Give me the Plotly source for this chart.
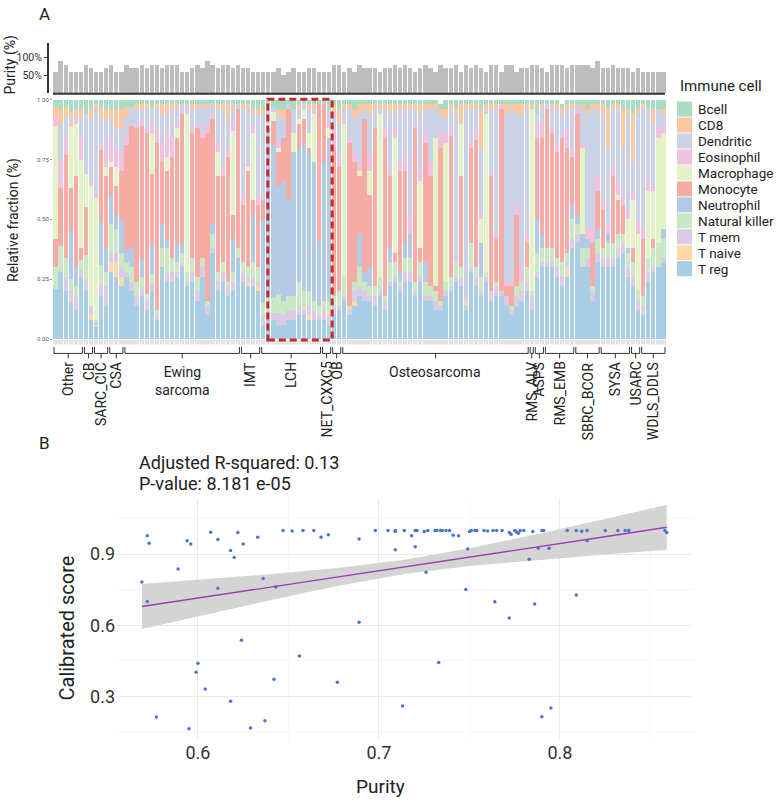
import plotly.graph_objects as go

W, H = 777, 804
def fx(p): return p / W
def fy(p): return 1 - p / H

FONT = "Roboto, Arial, sans-serif"

# ---------------- data: panel A ----------------
groups = ["Other", "CB", "SARC_CIC", "CSA", "Ewing sarcoma", "IMT", "LCH", "NET_CXXC5", "OB",
          "Osteosarcoma", "RMS_ALV", "ASPS", "RMS_EMB", "SBRC_BCOR", "SYSA", "USARC", "WDLS_DDLS"]
group_sizes = [6, 2, 3, 3, 23, 4, 12, 2, 2, 37, 1, 2, 6, 5, 6, 2, 5]

purity = [0.6,0.9,0.8,0.6,0.6,0.6,0.8,0.7,0.6,0.6, 0.7,0.8,0.6,0.6,0.8,0.7,0.7,0.8,0.7,0.8,
          0.8,0.7,0.8,0.8,0.8,0.6,0.6,0.7,0.8,0.7, 0.9,0.8,0.7,0.8,0.8,0.7,0.8,0.7,0.7,0.6,
          0.6,0.6,0.6,0.6,0.7,0.5,0.6,0.7,0.6,0.6, 0.7,0.7,0.6,0.6,0.6,0.8,0.8,0.6,0.7,0.6,
          0.8,0.7,0.7,0.7,0.6,0.7,0.7,0.8,0.7,
          0.8,0.7,0.6,0.7,0.8,0.7,0.6,0.8,0.7,0.7, 0.8,0.6,0.8,0.7,0.8,0.7,0.6,0.8,0.8,0.6,
          0.8,0.8,0.6,0.7,0.7,0.8,0.8,0.7,0.6,0.8, 0.8,0.8,0.7,0.8,0.8,0.8,0.8,0.7,0.9,0.7,
          0.7,0.8,0.7,0.7,0.7,0.6,0.7,0.6,0.6,0.6, 0.6,0.6]

# relative fractions (%) per immune cell type, one value per sample
t_reg = [21,28,20,15,12,26,20,8,5,18, 14,28,26,22,26,20,14,18,12,20, 8,30,24,24,26,30,22,24,16,26,
         10,36,20,24,18,20,34,24,22,22, 20,6,8,8,6,6,8,8,10,10, 8,8,8,8,6,10,12,16,10,14,
         18,16,16,14,18,12,22,24,20,24, 24,18,24,16,16,12,12,18,20,24, 22,12,28,22,18,24,16,18,18,14,
         10,14,16,20,12,26,30,30,30,26, 22,26,38,40,30,30,16,32,30,30, 30,34,36,26,22,12,10,24,28,30, 32]
t_naive = [0,0,0,0,0,0,0,2,1,0, 0,4,6,4,0,0,0,0,0,0, 0,0,0,0,0,0,0,0,0,0,
           0,0,0,0,0,0,0,0,2,0, 2,0,0,0,0,0,0,0,0,0, 2,0,0,0,0,0,0,0,0,2,
           0,0,0,0,0,0,0,0,0,0, 0,0,0,0,0,0,0,0,0,0, 0,0,0,0,0,0,0,0,0,0,
           0,0,0,0,0,0,0,0,0,0, 0,4,0,0,0,0,0,0,0,0, 0,0,0,0,0,0,0,0,0,0, 0]
t_mem = [0,0,6,5,6,3,5,4,1,5, 8,4,4,4,2,4,4,3,4,3, 2,0,4,4,2,2,2,4,4,4,
         4,2,4,4,4,4,0,4,2,4, 2,4,4,3,5,4,4,4,4,2, 4,4,2,4,4,4,2,2,2,4,
         4,4,2,4,2,4,2,2,2,4, 4,2,2,2,2,4,2,2,2,2, 4,2,2,4,2,2,4,4,2,4,
         2,4,4,4,6,2,2,2,2,4, 4,2,4,4,0,4,4,4,4,4, 4,4,4,4,4,4,4,4,2,0, 2]
natural_killer = [9,11,8,5,4,4,10,0,1,8, 6,12,10,6,4,6,6,5,3,4, 2,8,10,6,4,4,4,6,6,4,
                  2,6,4,4,2,4,4,4,4,6, 6,5,6,6,8,6,6,6,10,8, 6,4,4,4,6,4,6,8,2,4,
                  8,4,4,4,6,2,8,6,2,6, 6,4,6,6,4,4,2,4,4,6, 4,2,10,4,6,2,0,2,0,0,
                  2,4,4,6,2,8,6,6,6,4, 6,4,8,4,8,4,2,6,4,6, 6,6,4,6,6,4,4,6,8,10, 8]
neutrophil = [0,0,0,20,8,0,0,0,0,18, 10,12,6,14,5,8,0,8,0,12, 0,10,4,0,8,4,0,0,0,0,
              0,4,0,0,0,14,0,0,0,20, 0,35,70,64,45,50,40,60,56,62, 58,58,27,58,68,0,0,0,0,0,
              14,4,8,0,0,0,6,0,4,6, 10,0,0,8,0,0,0,0,0,0, 0,0,0,0,14,0,0,0,0,0,
              0,0,0,0,0,14,6,0,0,0, 0,0,6,4,6,4,0,4,0,4, 0,0,0,2,0,0,0,0,0,0, 4]
monocyte = [12,24,43,18,38,5,20,0,0,30, 30,12,12,20,44,51,64,55,67,30, 70,26,28,42,44,54,0,52,62,50,
            70,44,40,36,52,10,58,24,40,6, 26,8,0,10,14,18,38,0,10,10, 2,0,57,24,0,62,52,0,68,50,
            24,64,30,66,0,66,30,4,42,30, 0,64,6,50,46,2,64,0,59,0, 38,0,40,53,0,0,48,18,76,4,
            8,30,0,10,0,34,40,58,48,44, 52,44,20,42,0,0,18,16,16,0, 28,14,12,0,6,0,24,0,4,0, 0]
macrophage = [47,0,0,26,22,37,14,50,51,0, 4,2,8,0,0,0,0,0,0,17, 0,0,6,0,4,0,66,0,0,0,
              0,0,10,0,0,35,0,0,2,28, 0,0,2,4,2,0,0,8,2,4, 6,20,0,0,4,0,0,64,0,0,
              2,0,10,0,68,0,0,48,0,0, 0,0,28,0,0,62,0,58,0,0, 22,0,0,0,10,66,0,0,0,0,
              0,0,0,0,76,0,0,0,0,0, 0,0,0,0,36,0,0,0,0,0, 0,2,0,12,20,24,0,28,20,44, 40]
eosinophil = [4,12,8,2,2,10,0,2,2,3, 8,10,8,8,4,0,2,3,2,4, 6,8,10,8,2,0,2,2,2,2,
              4,2,4,4,4,4,0,4,2,4, 4,2,0,0,2,0,0,0,0,0, 0,0,0,0,2,8,4,2,2,4,
              4,0,6,0,0,4,4,4,4,6, 6,2,4,4,6,0,6,4,3,2, 0,2,2,4,2,0,2,2,2,2,
              2,4,6,4,0,6,6,0,2,4, 2,8,2,2,2,4,6,6,4,4, 4,6,4,4,4,6,4,4,2,4, 4]
dendritic = [0,15,8,2,0,8,25,26,35,10, 12,8,8,10,8,8,6,4,8,6, 8,12,8,12,6,4,2,8,6,12,
             6,4,14,24,12,5,2,36,22,4, 34,34,6,2,12,8,2,10,4,2, 10,2,0,0,6,6,14,4,12,14,
             20,4,18,8,2,8,22,8,22,20, 46,6,24,10,22,12,8,6,8,60, 0,78,14,9,28,2,26,52,0,70,
             72,38,64,52,0,4,6,2,8,14, 8,8,18,2,14,48,50,28,36,32, 24,30,20,40,12,44,50,30,26,8, 4]
cd8 = [4,6,4,2,4,3,0,4,2,5, 4,4,8,8,4,0,2,2,2,0, 2,4,4,2,2,0,0,2,2,0,
       2,0,2,2,6,2,0,2,2,2, 2,2,0,0,2,4,0,0,2,0, 2,2,0,0,0,4,6,2,2,4,
       4,2,4,2,2,2,4,2,2,2, 2,2,4,2,2,2,2,4,2,2, 8,2,2,2,16,2,2,2,0,4,
       2,4,4,2,2,0,2,0,2,2, 2,2,2,0,2,2,2,2,4,16, 2,2,16,2,20,2,2,0,6,0, 2]
bcell = [3,4,3,5,4,4,6,4,2,3, 4,4,4,4,3,3,2,2,2,4, 2,2,2,2,2,2,2,2,2,2,
         2,2,2,2,2,2,2,2,2,4, 4,4,4,3,4,4,2,4,2,2, 2,2,2,2,4,2,4,2,2,4,
         2,2,2,2,2,2,2,2,2,2, 2,2,2,2,2,2,2,4,2,4, 2,2,2,2,4,2,2,2,2,2,
         2,2,2,2,2,6,2,2,2,2, 2,2,2,2,2,4,2,2,2,4, 2,2,4,4,6,4,2,4,4,4, 4]

# stacking order bottom -> top, with legend names and colours
stack_names = ["T reg", "T naive", "T mem", "Natural killer", "Neutrophil", "Monocyte",
               "Macrophage", "Eosinophil", "Dendritic", "CD8", "Bcell"]
stack_values = [t_reg, t_naive, t_mem, natural_killer, neutrophil, monocyte,
                macrophage, eosinophil, dendritic, cd8, bcell]
cell_colors = {"Bcell": "#a9dcc5", "CD8": "#fbc8a2", "Dendritic": "#cbd2e8", "Eosinophil": "#f0c2e0",
               "Macrophage": "#e4f3c6", "Monocyte": "#f6aca5", "Neutrophil": "#b3cae4",
               "Natural killer": "#cbe8c4", "T mem": "#dccbe6", "T naive": "#fdd8a8", "T reg": "#a8cee5"}
legend_order = ["Bcell", "CD8", "Dendritic", "Eosinophil", "Macrophage", "Monocyte",
                "Neutrophil", "Natural killer", "T mem", "T naive", "T reg"]

# ---------------- data: panel B ----------------
purity_x = [0.569,0.572,0.573,0.572,0.589,0.594,0.596,0.600,0.607,0.611,
            0.611,0.618,0.620,0.622,0.625,0.624,0.633,0.636,0.643,0.647,
            0.652,0.656,0.658,0.664,0.668,0.672,0.689,0.689,0.698,0.705,
            0.709,0.709,0.709,0.714,0.718,0.720,0.721,0.720,0.725,0.727,
            0.726,0.731,0.732,0.733,0.734,0.735,0.737,0.739,0.741,0.744,
            0.749,0.748,0.750,0.751,0.753,0.754,0.758,0.760,0.763,0.765,
            0.768,0.772,0.773,0.775,0.776,0.777,0.778,0.780,0.783,0.785,
            0.788,0.790,0.791,0.794,0.764,0.772,0.786,0.804,0.809,0.809,
            0.812,0.815,0.815,0.825,0.832,0.836,0.838,0.858,0.859,0.577,
            0.595,0.599,0.604,0.618,0.629,0.637,0.642,0.677,0.713,0.795,0.790]
score_y = [0.782,0.977,0.946,0.700,0.837,0.956,0.943,0.440,0.992,0.962,
           0.756,0.915,0.886,0.991,0.943,0.537,0.971,0.797,0.761,0.999,
           0.997,0.470,0.999,0.999,0.971,0.982,0.964,0.613,0.999,0.999,
           0.995,1.000,0.918,0.999,0.977,0.999,0.999,0.931,0.995,0.999,
           0.823,0.999,0.999,0.443,0.999,0.999,0.999,0.999,0.979,0.977,
           0.922,0.751,0.995,0.999,1.000,0.999,0.999,0.997,0.999,0.999,
           0.999,0.991,0.984,0.999,0.993,0.988,0.999,0.999,0.878,0.995,
           0.925,0.999,0.999,0.925,0.699,0.631,0.690,0.999,0.999,0.727,
           0.996,0.999,0.956,0.999,0.999,0.999,0.999,0.999,0.991,0.213,
           0.164,0.402,0.331,0.279,0.167,0.197,0.372,0.360,0.259,0.251,0.214]
fit_x = [0.569, 0.605, 0.641, 0.677, 0.714, 0.750, 0.787, 0.823, 0.859]
fit_y = [0.679, 0.720, 0.762, 0.803, 0.846, 0.887, 0.930, 0.971, 1.013]
fit_lo = [0.584, 0.646, 0.707, 0.765, 0.816, 0.850, 0.875, 0.897, 0.918]
fit_hi = [0.774, 0.795, 0.816, 0.841, 0.876, 0.925, 0.984, 1.045, 1.108]

# ---------------- figure ----------------
n = len(purity)
samples = list(range(n))
fig = go.Figure()

for name, vals in zip(stack_names, stack_values):
    fig.add_trace(go.Bar(x=samples, y=vals, name=name, marker_color=cell_colors[name],
                         marker_line_width=0, xaxis="x", yaxis="y", showlegend=False))

fig.add_trace(go.Bar(x=samples, y=purity, marker_color="#bdbdbd", marker_line_width=0,
                     xaxis="x", yaxis="y2", showlegend=False))
fig.add_trace(go.Bar(x=samples, y=[1] * n, marker_color="#e3e3e3", marker_line_width=0,
                     xaxis="x", yaxis="y3", showlegend=False))

fig.add_trace(go.Scatter(x=fit_x, y=fit_lo, mode="lines", line=dict(width=0),
                         xaxis="x2", yaxis="y4", showlegend=False, hoverinfo="skip"))
fig.add_trace(go.Scatter(x=fit_x, y=fit_hi, mode="lines", line=dict(width=0), fill="tonexty",
                         fillcolor="#d4d4d4", xaxis="x2", yaxis="y4", showlegend=False, hoverinfo="skip"))
fig.add_trace(go.Scatter(x=purity_x, y=score_y, mode="markers",
                         marker=dict(size=3.5, color="#4a77c9"), xaxis="x2", yaxis="y4", showlegend=False))
fig.add_trace(go.Scatter(x=fit_x, y=fit_y, mode="lines", line=dict(color="#9d3db3", width=1.4),
                         xaxis="x2", yaxis="y4", showlegend=False))

shapes = []
annotations = []

# baseline of purity bars
shapes.append(dict(type="line", xref="paper", yref="paper", x0=fx(53), x1=fx(665), y0=fy(90.5), y1=fy(90.5),
                   line=dict(color="#333333", width=2)))

# group brackets and labels
start = 0
starts = []
for g, size in zip(groups, group_sizes):
    starts.append(start)
    a = start - 0.5 + 0.2
    b = start + size - 0.5 - 0.2
    c = start + size / 2 - 0.5
    lc = dict(color="#333333", width=1)
    shapes.append(dict(type="line", xref="x", yref="paper", x0=a, x1=b, y0=fy(352.5), y1=fy(352.5), line=lc))
    shapes.append(dict(type="line", xref="x", yref="paper", x0=a, x1=a, y0=fy(352.5), y1=fy(346), line=lc))
    shapes.append(dict(type="line", xref="x", yref="paper", x0=b, x1=b, y0=fy(352.5), y1=fy(346), line=lc))
    shapes.append(dict(type="line", xref="x", yref="paper", x0=c, x1=c, y0=fy(352.5), y1=fy(357.5), line=lc))
    if g == "Ewing sarcoma":
        annotations.append(dict(x=c, y=fy(361), xref="x", yref="paper", text="Ewing<br>sarcoma",
                                showarrow=False, xanchor="center", yanchor="top",
                                font=dict(size=14, color="#222")))
    elif g == "Osteosarcoma":
        annotations.append(dict(x=c, y=fy(361), xref="x", yref="paper", text=g,
                                showarrow=False, xanchor="center", yanchor="top",
                                font=dict(size=14, color="#222")))
    else:
        annotations.append(dict(x=c, y=fy(359), xref="x", yref="paper", text=g, textangle=-90,
                                showarrow=False, xanchor="center", yanchor="top",
                                font=dict(size=14, color="#222")))
    start += size

# highlight box around LCH / NET_CXXC5
i_lch = groups.index("LCH")
i_net = groups.index("NET_CXXC5")
shapes.append(dict(type="rect", xref="x", yref="paper",
                   x0=starts[i_lch] + 0.9, x1=starts[i_net] + group_sizes[i_net] - 0.4,
                   y0=fy(339), y1=fy(96), line=dict(color="#c9282d", width=3, dash="7px,4px")))

# manual legend
annotations.append(dict(x=fx(678), y=fy(83), xref="paper", yref="paper", text="Immune cell",
                        showarrow=False, xanchor="left", yanchor="middle", font=dict(size=15, color="#222")))
for k, name in enumerate(legend_order):
    yc = 106 + 16.1 * k
    shapes.append(dict(type="rect", xref="paper", yref="paper", x0=fx(677), x1=fx(692),
                       y0=fy(yc + 7.6), y1=fy(yc - 7.6), fillcolor=cell_colors[name], line=dict(width=0)))
    annotations.append(dict(x=fx(696), y=fy(yc), xref="paper", yref="paper", text=name, showarrow=False,
                            xanchor="left", yanchor="middle", font=dict(size=13.5, color="#222")))

# texts
def txt(x, y, t, size, angle=0, xa="center", ya="middle"):
    annotations.append(dict(x=fx(x), y=fy(y), xref="paper", yref="paper", text=t, showarrow=False,
                            textangle=angle, xanchor=xa, yanchor=ya, font=dict(size=size, color="#222")))

txt(37, 10, "A", 17, xa="left")
txt(10, 62, "Purity (%)", 14, angle=-90)
txt(13, 218, "Relative fraction (%)", 14, angle=-90)
txt(37, 443, "B", 17, xa="left")
txt(137, 463, "Adjusted R-squared: 0.13", 18, xa="left")
txt(137, 484, "P-value: 8.181 e-05", 18, xa="left")
txt(67, 630, "Calibrated score", 20, angle=-90)
txt(380, 789, "Purity", 19)

fig.update_layout(
    width=W, height=H, margin=dict(l=0, r=0, t=0, b=0),
    paper_bgcolor="white", plot_bgcolor="white",
    barmode="stack", bargap=0.15, showlegend=False,
    font=dict(family=FONT, color="#222"),
    xaxis=dict(domain=[fx(53), fx(666)], range=[-0.5, n - 0.5], visible=False, anchor="y"),
    yaxis=dict(domain=[fy(338), fy(96.5)], range=[0, 100], anchor="x",
               tickvals=[0, 25, 50, 75, 100], ticktext=["0.00", "0.25", "0.50", "0.75", "1.00"],
               tickfont=dict(size=6, color="#555"), ticks="outside", ticklen=2, tickcolor="#999",
               showgrid=False, zeroline=False, showline=False),
    yaxis2=dict(domain=[fy(90), fy(39)], range=[0, 1.42], anchor="free", position=fx(47),
                tickvals=[0.5, 1.0], ticktext=["50%", "100%"], showline=True, linecolor="#333",
                linewidth=1.5, ticks="outside", ticklen=3, tickcolor="#333",
                tickfont=dict(size=10.5, color="#333"), showgrid=False, zeroline=False),
    yaxis3=dict(domain=[fy(343.5), fy(338.5)], range=[0, 1], visible=False, anchor="x"),
    xaxis2=dict(domain=[fx(116), fx(693)], range=[0.5547, 0.8735], anchor="y4",
                tick0=0, dtick=0.1, showgrid=True, gridcolor="#e9e9e9", gridwidth=1,
                zeroline=False, showline=False, ticks="", tickfont=dict(size=18, color="#333"),
                minor=dict(tick0=0, dtick=0.05, showgrid=True, gridcolor="#f3f3f3", gridwidth=0.7)),
    yaxis4=dict(domain=[fy(742), fy(498)], range=[0.118, 1.138], anchor="x2",
                tick0=0, dtick=0.3, showgrid=True, gridcolor="#e9e9e9", gridwidth=1,
                zeroline=False, showline=False, ticks="", tickfont=dict(size=18, color="#333"),
                minor=dict(tick0=0, dtick=0.15, showgrid=True, gridcolor="#f3f3f3", gridwidth=0.7)),
    shapes=shapes, annotations=annotations,
)

fig.write_html("out.html", config={"displayModeBar": False, "staticPlot": True},
               post_script="document.body.style.margin='0px';document.body.style.overflow='hidden';")
